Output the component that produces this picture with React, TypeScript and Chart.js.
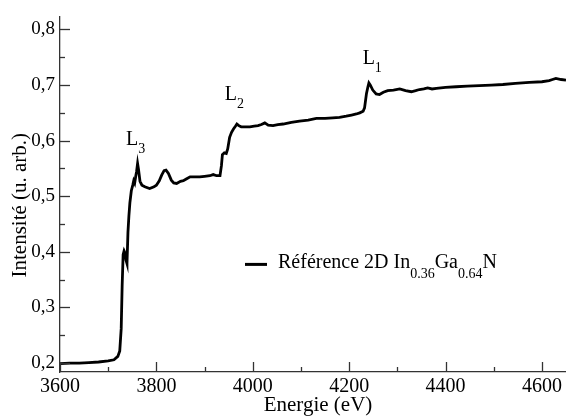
import React, { useEffect, useRef } from 'react';
import { Chart, registerables } from 'chart.js';

Chart.register(...registerables);

// ---- data ----
const energy = [
  3600, 3620, 3640, 3660, 3680, 3700, 3712, 3720, 3724, 3727, 3729, 3731, 3733, 3735, 3737, 3739,
  3741, 3743, 3745, 3748, 3751, 3753, 3755, 3757, 3759, 3761, 3763, 3766, 3770, 3776, 3786, 3795,
  3800, 3806, 3811, 3816, 3820, 3825, 3831, 3836, 3842, 3850, 3856, 3862, 3870, 3880, 3890, 3900,
  3911, 3918, 3925, 3932, 3935, 3937, 3941, 3945, 3948, 3952, 3956, 3960, 3964, 3967, 3971, 3976,
  3985, 3994, 4003, 4011, 4018, 4025, 4032, 4042, 4052, 4063, 4080, 4097, 4115, 4132, 4150, 4166,
  4180, 4194, 4205, 4215, 4222, 4229, 4232, 4234, 4236, 4239, 4241, 4244, 4249, 4256, 4263, 4271,
  4280, 4292, 4305, 4317, 4329, 4338, 4346, 4355, 4363, 4372, 4381, 4400, 4422, 4445, 4470, 4495,
  4519, 4545, 4574, 4600, 4615, 4622, 4629, 4640, 4650,
];
const intensity = [
  0.199, 0.200, 0.200, 0.201, 0.202, 0.204, 0.206, 0.212, 0.222, 0.262, 0.340, 0.395, 0.402, 0.398, 0.385, 0.379,
  0.435, 0.465, 0.488, 0.510, 0.520, 0.528, 0.524, 0.535, 0.545, 0.559, 0.548, 0.527, 0.520, 0.517, 0.514, 0.517,
  0.520, 0.528, 0.538, 0.546, 0.547, 0.541, 0.529, 0.524, 0.523, 0.527, 0.528, 0.531, 0.535, 0.535, 0.535, 0.536,
  0.537, 0.539, 0.537, 0.537, 0.555, 0.575, 0.578, 0.577, 0.585, 0.606, 0.615, 0.621, 0.626, 0.630, 0.627, 0.625,
  0.625, 0.625, 0.626, 0.627, 0.629, 0.632, 0.628, 0.627, 0.629, 0.630, 0.633, 0.635, 0.637, 0.640, 0.640, 0.641,
  0.642, 0.644, 0.646, 0.648, 0.650, 0.653, 0.659, 0.672, 0.685, 0.697, 0.704, 0.700, 0.691, 0.684, 0.683, 0.687,
  0.690, 0.691, 0.693, 0.690, 0.688, 0.690, 0.692, 0.693, 0.695, 0.693, 0.694, 0.696, 0.697, 0.698, 0.699, 0.700,
  0.701, 0.703, 0.705, 0.706, 0.708, 0.710, 0.712, 0.710, 0.709,
];

const xTicks = [3600, 3800, 4000, 4200, 4400, 4600];
const xMinorTicks = [3700, 3900, 4100, 4300, 4500];
const yTicks = [0.2, 0.3, 0.4, 0.5, 0.6, 0.7, 0.8];
const yMinorTicks = [0.25, 0.35, 0.45, 0.55, 0.65, 0.75];

const xTitle = 'Energie (eV)';
const yTitle = 'Intensité (u. arb.)';
const legendParts = [
  { t: 'Référence 2D In', sub: false },
  { t: '0.36', sub: true },
  { t: 'Ga', sub: false },
  { t: '0.64', sub: true },
  { t: 'N', sub: false },
];
const edgeNames = ['L', 'L', 'L'];
const edgeSubs = ['3', '2', '1'];
const edgeX = [3737, 3942, 4228];
const edgeY = [0.592, 0.6727, 0.738];

const FONT = '"Liberation Serif", "Times New Roman", serif';

function drawRich(ctx: CanvasRenderingContext2D, x: number, y: number, parts: { t: string; sub: boolean }[], size: number, subSize: number, subDy: number) {
  let cx = x;
  ctx.textAlign = 'left';
  ctx.textBaseline = 'alphabetic';
  for (const p of parts) {
    ctx.font = `${p.sub ? subSize : size}px ${FONT}`;
    ctx.fillText(p.t, cx, p.sub ? y + subDy : y);
    cx += ctx.measureText(p.t).width;
  }
}

const decorPlugin = {
  id: 'decor',
  afterDraw(chart: any) {
    const ctx: CanvasRenderingContext2D = chart.ctx;
    const xs = chart.scales.x;
    const ys = chart.scales.y;
    const { left, right, top, bottom } = chart.chartArea;
    ctx.save();
    // inward ticks
    ctx.strokeStyle = '#333';
    ctx.lineWidth = 1.3;
    const tick = (vals: number[], len: number, horiz: boolean) => {
      for (const v of vals) {
        ctx.beginPath();
        if (horiz) {
          const px = Math.round(xs.getPixelForValue(v)) + 0.5;
          ctx.moveTo(px, bottom);
          ctx.lineTo(px, bottom - len);
        } else {
          const py = Math.round(ys.getPixelForValue(v)) + 0.5;
          ctx.moveTo(left, py);
          ctx.lineTo(left + len, py);
        }
        ctx.stroke();
      }
    };
    tick(xTicks, 10, true);
    tick(xMinorTicks, 5, true);
    tick(yTicks, 10, false);
    tick(yMinorTicks, 5, false);

    ctx.fillStyle = '#000';
    // axis titles
    ctx.font = `21px ${FONT}`;
    ctx.textAlign = 'center';
    ctx.textBaseline = 'alphabetic';
    ctx.fillText(xTitle, (left + right) / 2 + 5, 411);
    ctx.save();
    ctx.translate(26, (top + bottom) / 2 + 11);
    ctx.rotate(-Math.PI / 2);
    ctx.fillText(yTitle, 0, 0);
    ctx.restore();

    // edge labels
    for (let i = 0; i < edgeNames.length; i++) {
      const px = xs.getPixelForValue(edgeX[i]);
      const py = ys.getPixelForValue(edgeY[i]);
      drawRich(ctx, px, py, [{ t: edgeNames[i], sub: false }, { t: edgeSubs[i], sub: true }], 20, 14, 8);
    }

    // legend
    const lx = left + 185;
    const ly = top + 248;
    ctx.strokeStyle = '#000';
    ctx.lineWidth = 3;
    ctx.beginPath();
    ctx.moveTo(lx, ly);
    ctx.lineTo(lx + 22, ly);
    ctx.stroke();
    drawRich(ctx, lx + 33, ly + 3.5, legendParts, 20, 14, 10);
    ctx.restore();
  },
};

export default function App() {
  const ref = useRef<HTMLCanvasElement>(null);
  useEffect(() => {
    const chart = new Chart(ref.current as HTMLCanvasElement, {
      type: 'line',
      data: {
        datasets: [
          {
            label: 'Référence 2D In0.36Ga0.64N',
            data: energy.map((e, i) => ({ x: e, y: intensity[i] })),
            borderColor: '#000',
            borderWidth: 2.8,
            pointRadius: 0,
            tension: 0,
            fill: false,
          },
        ],
      },
      options: {
        animation: false,
        responsive: false,
        devicePixelRatio: 1,
        layout: { padding: { top: 12, right: 0, bottom: 0, left: 0 } },
        plugins: { legend: { display: false }, tooltip: { enabled: false } },
        scales: {
          x: {
            type: 'linear',
            min: 3600,
            max: 4650,
            afterBuildTicks: (s: any) => {
              s.ticks = xTicks.map((v) => ({ value: v }));
            },
            afterFit: (s: any) => {
              s.height = 44;
            },
            grid: { display: false, drawTicks: false },
            border: { display: true, color: '#333', width: 1.3 },
            ticks: {
              color: '#000',
              padding: 3,
              maxRotation: 0,
              font: { family: FONT, size: 20 },
              callback: (v: any) => String(v),
            },
          },
          y: {
            type: 'linear',
            min: 0.184,
            max: 0.8235,
            afterBuildTicks: (s: any) => {
              s.ticks = yTicks.map((v) => ({ value: v }));
            },
            afterFit: (s: any) => {
              s.width = 60;
            },
            grid: { display: false, drawTicks: false },
            border: { display: true, color: '#333', width: 1.3 },
            ticks: {
              color: '#000',
              padding: 5,
              font: { family: FONT, size: 19 },
              callback: (v: any) => Number(v).toFixed(1).replace('.', ','),
            },
          },
        },
      },
      plugins: [decorPlugin],
    });
    return () => chart.destroy();
  }, []);
  return (
    <div style={{ position: 'absolute', left: 0, top: 0, width: 566, height: 416, background: '#fff' }}>
      <canvas ref={ref} width={566} height={416} />
    </div>
  );
}
